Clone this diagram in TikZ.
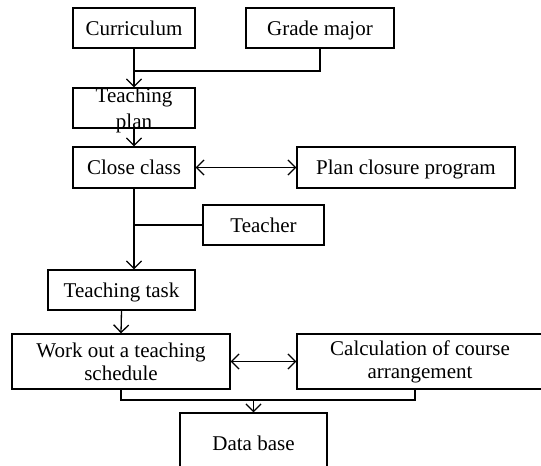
\documentclass[tikz,border=0pt]{standalone}
\usepackage{fontspec}
\setmainfont{Liberation Serif}
\usetikzlibrary{arrows.meta}

\tikzset{
    stepbox/.style={draw, line width=1.3pt, inner sep=0pt, align=center},
    oneline/.style={text height=14.5pt, text depth=0pt},
    flow/.style={line width=1.3pt},
}

\begin{document}
\begin{tikzpicture}[x=1pt, y=1pt, >={Straight Barb[length=7.5pt, width=15pt]},
    font=\fontsize{21}{23}\selectfont]
            \useasboundingbox (0,0) rectangle (541,-466);
            \clip (0,0) rectangle (541,-466);
            
            \node[stepbox, oneline, minimum width=122, minimum height=40] (curr) at (134,-28) {Curriculum};
            \node[stepbox, oneline, minimum width=148, minimum height=40] (grade) at (320,-28) {Grade major};
            \node[stepbox, minimum width=122, minimum height=40] (tplan) at (134,-108) {};
            \node[align=center, inner sep=0pt] (tplantext) at (134,-110) {Teaching\\[3pt]plan};
            \node[stepbox, oneline, minimum width=122, minimum height=41] (close) at (134,-167.5) {Close class};
            \node[stepbox, oneline, minimum width=218, minimum height=41] (closure) at (406,-167.5) {Plan closure program};
            \node[stepbox, oneline, minimum width=121, minimum height=40] (teacher) at (263.5,-225) {Teacher};
            \node[stepbox, oneline, minimum width=147, minimum height=40] (task) at (121.5,-290) {Teaching task};
            \node[stepbox, minimum width=218, minimum height=55] (work) at (121,-361.5) {Work out a teaching\\schedule};
            \node[stepbox, minimum width=246, minimum height=55] (calc) at (420,-361.5) {Calculation of course\\arrangement};
            \node[stepbox, oneline, minimum width=147, minimum height=60] (db) at (253.5,-443) {Data base};
            
            \coordinate (jtop) at (134,-71);
            \coordinate (jbot) at (121,-400);
            \coordinate (jcalc) at (415,-389);
            \coordinate (jdb) at (253.5,-400);
            
            \draw[flow] (grade.south) |- (jtop);
            \draw[flow, ->] (curr.south) -- (tplan.north);
            \draw[flow, ->] (tplan.south) -- (close.north);
            \draw[flow, <->] (close.east) -- (closure.west);
            \draw[flow, ->] (close.south) -- (close.south |- task.north);
            \draw[flow] (teacher.west) -- (close.south |- teacher.west);
            \draw[flow, ->] (task.south) -- (work.north);
            \draw[flow, <->] (work.east) -- (calc.west);
            \draw[flow] (work.south) |- (jbot) -| (jcalc);
            \draw[flow, ->] (jdb) -- (db.north);
         
        \end{tikzpicture}
\end{document}
